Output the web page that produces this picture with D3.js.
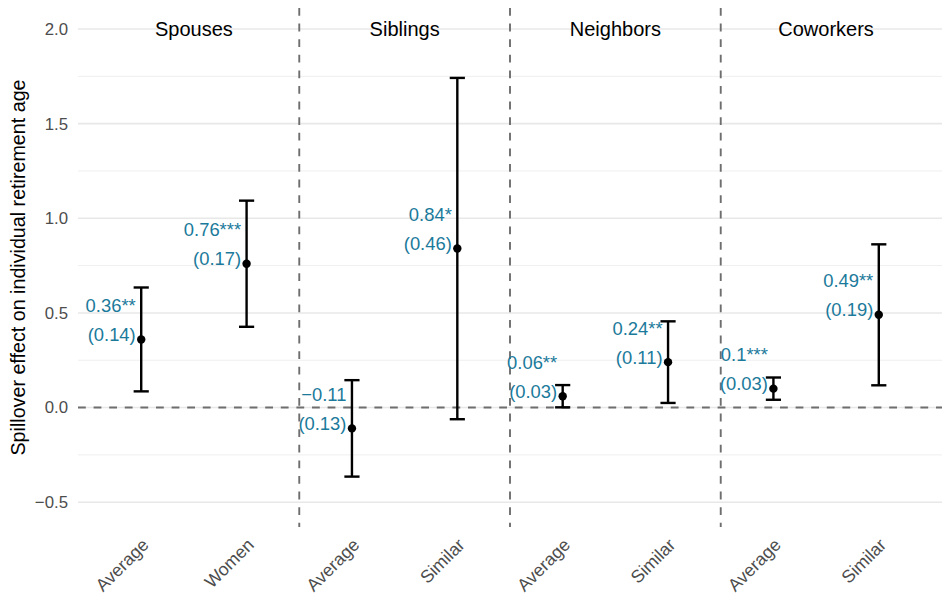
<!DOCTYPE html>
<html>
<head>
<meta charset="utf-8">
<script src="https://cdn.jsdelivr.net/npm/d3@7"></script>
<style>
  html, body { margin: 0; padding: 0; background: #fff; }
  svg { display: block; font-family: "Liberation Sans", Arial, Helvetica, sans-serif; }
</style>
</head>
<body>
<svg id="chart" width="942" height="598"></svg>
<script>
// Peer-group panels and the comparison within each
const groups = ["Spouses", "Siblings", "Neighbors", "Coworkers"];
const groupOfCategory = ["Spouses", "Spouses", "Siblings", "Siblings", "Neighbors", "Neighbors", "Coworkers", "Coworkers"];
const tickLabels = ["Average", "Women", "Average", "Similar", "Average", "Similar", "Average", "Similar"];

// Point estimates, standard errors and significance stars
const estimates = [0.36, 0.76, -0.11, 0.84, 0.06, 0.24, 0.10, 0.49];
const stdErrors = [0.14, 0.17, 0.13, 0.46, 0.03, 0.11, 0.03, 0.19];
const stars = ["**", "***", "", "*", "**", "**", "***", "**"];

// Y axis ticks
const majorTicks = [-0.5, 0, 0.5, 1.0, 1.5, 2.0];
const minorTicks = [-0.25, 0.25, 0.75, 1.25, 1.75];

const Z = 1.96; // 95% confidence interval

const svg = d3.select("#chart");
const panel = { left: 78, right: 942, top: 8, bottom: 527 };

const keys = tickLabels.map((d, i) => groupOfCategory[i] + "|" + d);
const rows = keys.map((k, i) => ({
  key: k,
  group: groupOfCategory[i],
  label: tickLabels[i],
  est: estimates[i],
  se: stdErrors[i],
  lo: estimates[i] - Z * stdErrors[i],
  hi: estimates[i] + Z * stdErrors[i],
  stars: stars[i]
}));

const x = d3.scalePoint().domain(keys).range([panel.left, panel.right]).padding(0.6);
const y = d3.scaleLinear().domain([-0.631, 2.111]).range([panel.bottom, panel.top]);
const step = x.step();

// Grid
const grid = svg.append("g");
grid.selectAll("line.minor").data(minorTicks).join("line")
  .attr("x1", panel.left).attr("x2", panel.right)
  .attr("y1", d => y(d)).attr("y2", d => y(d))
  .attr("stroke", "#efefef").attr("stroke-width", 1);
grid.selectAll("line.major").data(majorTicks).join("line")
  .attr("x1", panel.left).attr("x2", panel.right)
  .attr("y1", d => y(d)).attr("y2", d => y(d))
  .attr("stroke", "#e8e8e8").attr("stroke-width", 1.6);

// Y axis labels
const yAxis = d3.axisLeft(y).tickValues(majorTicks).tickSize(0).tickPadding(0)
  .tickFormat(d => d3.format(".1f")(d).replace("-", "\u2212"));
const yg = svg.append("g").attr("transform", `translate(${panel.left - 10},0)`).call(yAxis);
yg.select(".domain").remove();
yg.selectAll("text").attr("font-size", 16.8).attr("fill", "#4d4d4d")
  .attr("font-family", "Liberation Sans, Arial, sans-serif");

// Y axis title
svg.append("text")
  .attr("transform", `translate(25,${(panel.top + panel.bottom) / 2}) rotate(-90)`)
  .attr("text-anchor", "middle")
  .attr("font-size", 19.7).attr("fill", "#000")
  .text("Spillover effect on individual retirement age");

// X axis labels (rotated)
const xAxis = d3.axisBottom(x).tickSize(0).tickPadding(0).tickFormat((d, i) => tickLabels[i]);
const xg = svg.append("g").attr("transform", `translate(0,${panel.bottom})`).call(xAxis);
xg.select(".domain").remove();
xg.selectAll("text")
  .attr("font-size", 17.8).attr("fill", "#4d4d4d")
  .attr("font-family", "Liberation Sans, Arial, sans-serif")
  .attr("text-anchor", "end")
  .attr("dy", null).attr("y", 0)
  .attr("transform", "translate(8,19) rotate(-45)");

// Zero reference line
svg.append("line")
  .attr("x1", panel.left).attr("x2", panel.right)
  .attr("y1", y(0)).attr("y2", y(0))
  .attr("stroke", "#6e6e6e").attr("stroke-width", 1.9)
  .attr("stroke-dasharray", "7.8,7.8");

// Panel separators
const separators = groups.slice(1).map(g => {
  const first = rows.find(r => r.group === g).key;
  return x(first) - step / 2;
});
svg.selectAll("line.sep").data(separators).join("line")
  .attr("x1", d => d).attr("x2", d => d)
  .attr("y1", panel.top).attr("y2", panel.bottom)
  .attr("stroke", "#6e6e6e").attr("stroke-width", 1.9)
  .attr("stroke-dasharray", "7.8,7.8");

// Panel titles, centred over each pair at the top gridline
svg.selectAll("text.group").data(groups).join("text")
  .attr("x", g => d3.mean(rows.filter(r => r.group === g), r => x(r.key)))
  .attr("y", y(2.0) + 7)
  .attr("text-anchor", "middle")
  .attr("font-size", 20).attr("fill", "#000")
  .text(g => g);

// Error bars
const capHalf = step * 0.072;
const bars = svg.append("g").attr("stroke", "#000").attr("stroke-width", 2.4).attr("fill", "none");
bars.selectAll("line.stem").data(rows).join("line")
  .attr("x1", d => x(d.key)).attr("x2", d => x(d.key))
  .attr("y1", d => y(d.lo)).attr("y2", d => y(d.hi));
bars.selectAll("line.capHi").data(rows).join("line")
  .attr("x1", d => x(d.key) - capHalf).attr("x2", d => x(d.key) + capHalf)
  .attr("y1", d => y(d.hi)).attr("y2", d => y(d.hi));
bars.selectAll("line.capLo").data(rows).join("line")
  .attr("x1", d => x(d.key) - capHalf).attr("x2", d => x(d.key) + capHalf)
  .attr("y1", d => y(d.lo)).attr("y2", d => y(d.lo));

// Point estimates
svg.selectAll("circle.pt").data(rows).join("circle")
  .attr("cx", d => x(d.key)).attr("cy", d => y(d.est))
  .attr("r", 4.2).attr("fill", "#000");

// Estimate and standard-error labels
const fmt = v => (v < 0 ? "\u2212" : "") + String(+Math.abs(v).toFixed(2));
const fmtSe = v => "(" + v.toFixed(2) + ")";
const labels = svg.selectAll("text.lab").data(rows).join("text")
  .attr("text-anchor", "end")
  .attr("font-size", 18.4).attr("fill", "#1b7a9b");
labels.append("tspan")
  .attr("x", d => x(d.key) - 5.5).attr("y", d => y(d.est) - 27.5)
  .text(d => fmt(d.est) + d.stars);
labels.append("tspan")
  .attr("x", d => x(d.key) - 5.5).attr("y", d => y(d.est) + 1.5)
  .text(d => fmtSe(d.se));
</script>
</body>
</html>
